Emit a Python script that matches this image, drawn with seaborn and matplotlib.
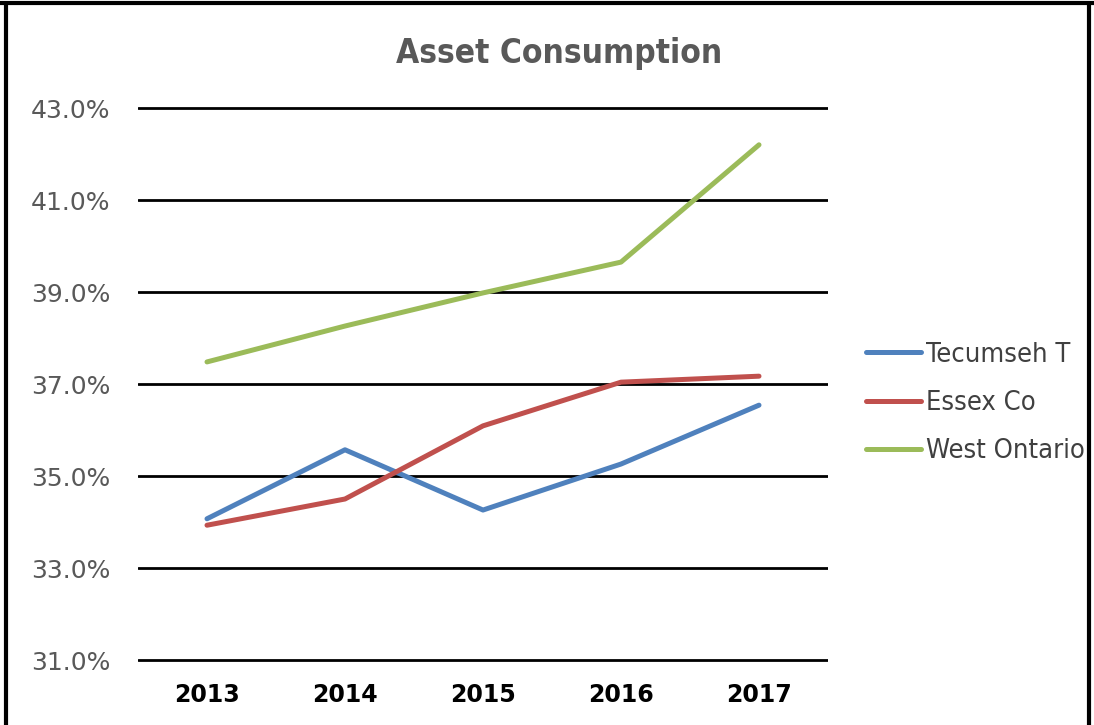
import matplotlib
matplotlib.use("Agg")
import matplotlib.pyplot as plt
from matplotlib.lines import Line2D
from matplotlib.ticker import FuncFormatter
from matplotlib.font_manager import FontProperties
import seaborn as sns
import pandas as pd

years = ["2013", "2014", "2015", "2016", "2017"]
tecumseh = [34.07, 35.57, 34.26, 35.26, 36.54]
essex = [33.93, 34.50, 36.09, 37.04, 37.17]
west_ontario = [37.48, 38.26, 38.98, 39.65, 42.20]
series_names = ["Tecumseh T", "Essex Co", "West Ontario"]
colors = ["#4F81BD", "#C0504D", "#9BBB59"]

df = pd.DataFrame({
    "Year": years * 3,
    "Value": tecumseh + essex + west_ontario,
    "Series": [series_names[0]] * 5 + [series_names[1]] * 5 + [series_names[2]] * 5,
})

sns.set_style("white")
plt.rcParams["font.family"] = ["DejaVu Sans"]

W, H = 1094, 725
fig = plt.figure(figsize=(W / 100, H / 100), dpi=100)
ymin, ymax = 30.9, 43.1
ppu = 46.0
top_px = 108 - (ymax - 43) * ppu
bot_px = 660 + (31 - ymin) * ppu
ax = fig.add_axes([138 / W, 1 - bot_px / H, (828 - 138) / W, (bot_px - top_px) / H])

sns.lineplot(data=df, x="Year", y="Value", hue="Series", palette=colors,
             hue_order=series_names, sort=False, linewidth=3.6, ax=ax,
             legend=False)
for ln in ax.lines:
    ln.set_solid_capstyle("round")
    ln.set_solid_joinstyle("round")

ax.set_xlim(-0.5, 4.5)
ax.set_ylim(ymin, ymax)
ax.set_yticks([31, 33, 35, 37, 39, 41, 43])
ax.yaxis.set_major_formatter(FuncFormatter(lambda v, p: f"{v:.1f}%"))
ax.grid(axis="y", color="black", linewidth=2.0)
ax.grid(axis="x", visible=False)
ax.set_axisbelow(True)
for s in ax.spines.values():
    s.set_visible(False)
ax.set_xlabel("")
ax.set_ylabel("")
ax.tick_params(axis="y", length=0, pad=20, labelsize=18, labelcolor="#595959")
ax.tick_params(axis="x", length=0, pad=13, labelsize=17, labelcolor="black")
for t in ax.get_xticklabels():
    t.set_fontweight("bold")

fig.text(559 / W, 1 - 54 / H, "Asset Consumption", ha="center", va="center",
         fontsize=24, fontweight="bold", fontstretch="condensed", color="#595959")

legend_font = FontProperties(family="DejaVu Sans", stretch="condensed", size=19.5)
handles = [Line2D([], [], color=c, linewidth=3.6, solid_capstyle="round") for c in colors]
fig.legend(handles, series_names, loc="center left",
           bbox_to_anchor=(866 / W, 1 - 403 / H), frameon=False,
           prop=legend_font, labelcolor="#404040", handlelength=2.03,
           handletextpad=0.2, labelspacing=0.82, borderpad=0, borderaxespad=0)

# outer frame
for xs, ys in [([0, W], [H - 3, H - 3]), ([6, 6], [0, H - 3]), ([W - 5, W - 5], [0, H - 3])]:
    fig.add_artist(Line2D([x / W for x in xs], [y / H for y in ys],
                          transform=fig.transFigure, color="black", linewidth=3))

fig.savefig("out.png", dpi=100)
